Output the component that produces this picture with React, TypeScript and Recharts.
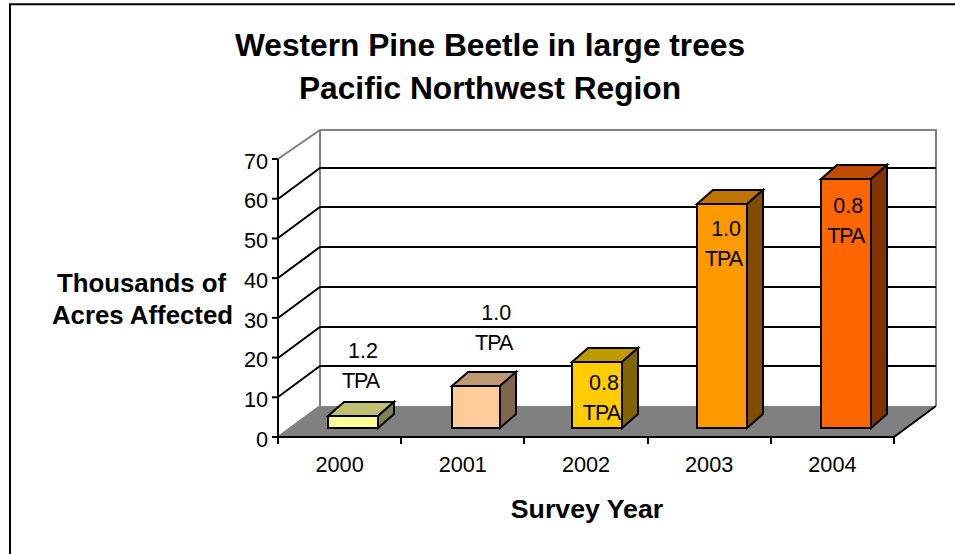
import { BarChart, Bar, XAxis, YAxis, LabelList } from 'recharts'

const FONT = '"Liberation Sans", Arial, sans-serif'

// ==================== Data ====================

const YEARS = ['2000', '2001', '2002', '2003', '2004']
const ACRES = [3, 10.6, 16.7, 56.4, 62.8]
const TPA = ['1.2', '1.0', '0.8', '1.0', '0.8']
const Y_TICKS = [0, 10, 20, 30, 40, 50, 60, 70]

const FRONT_COLORS = ['#FFFF99', '#FFCC99', '#FFCC00', '#FF9900', '#FF6600']
const TOP_COLORS = ['#BFBF73', '#BF9973', '#BF9900', '#BF7300', '#BF4C00']
const SIDE_COLORS = ['#80804D', '#80664D', '#806600', '#804D00', '#803300']

// Manually placed data labels: baseline lift above the bar's top edge, x shift from the bar's centre
const LABEL_LIFT = [58, 66, -28, -32, -34]
const LABEL_SHIFT = [7.5, 16.5, 4, 2, 0]
// the 3D bars don't sit perfectly evenly across the bands
const BAR_NUDGE = [0, 1, -2, -1, 0]
const BAR_TRIM = [0, 2, 0, 0, 0]

const chartData = YEARS.map((year, i) => ({ year, acres: ACRES[i] }))

// ==================== Geometry ====================

const WIDTH = 955
const HEIGHT = 554
const LEFT = 278
const RIGHT = 894
const TOP = 159
const BOTTOM = 437
const AXIS_W = 60
const AXIS_H = 30

// oblique offset of the back wall
const DX = 42
const DY = 31
// bars stand part way into the floor
const BAR_DX = 13
const BAR_DY = 9
const BAR_DEPTH_X = 16
const BAR_DEPTH_Y = 14

const yPos = (v: number) => Math.round(BOTTOM - ((BOTTOM - TOP) * v) / 70)

// ==================== Walls ====================

function Walls() {
  const band = (RIGHT - LEFT) / YEARS.length
  return (
    <g>
      <polygon
        points={`${LEFT},${BOTTOM} ${RIGHT},${BOTTOM} ${RIGHT + DX},${BOTTOM - DY} ${LEFT + DX},${BOTTOM - DY}`}
        fill="#808080"
      />
      <path
        d={`M${LEFT},${TOP} L${LEFT + DX},${TOP - 29} H${RIGHT + DX} V${BOTTOM - DY} M${LEFT + DX},${TOP - 29} V${BOTTOM - DY} L${LEFT},${BOTTOM}`}
        fill="none"
        stroke="#808080"
        strokeWidth={2}
      />
      {Y_TICKS.filter(t => t > 0 && t < 70).map(t => (
        <path
          key={t}
          d={`M${LEFT},${yPos(t)} L${LEFT + DX},${yPos(t) - DY} H${RIGHT + DX}`}
          fill="none"
          stroke="#000"
          strokeWidth={2}
        />
      ))}
      <line x1={RIGHT} y1={BOTTOM} x2={RIGHT + DX} y2={BOTTOM - DY} stroke="#000" strokeWidth={2} />
      {[0, 1, 2, 3, 4, 5].map(i => (
        <line key={i} x1={Math.round(LEFT + i * band)} y1={BOTTOM} x2={Math.round(LEFT + i * band)} y2={BOTTOM + 7} stroke="#000" strokeWidth={2} />
      ))}
    </g>
  )
}

// ==================== 3D bar ====================

function Bar3D({ x, y, width, height, index }: any) {
  const l = Math.round(x + BAR_DX + BAR_NUDGE[index])
  const r = l + width - BAR_TRIM[index]
  const t = Math.round(y - BAR_DY)
  const b = BOTTOM - BAR_DY
  return (
    <g stroke="#000" strokeWidth={2} strokeLinejoin="miter">
      <polygon points={`${l},${t} ${l + BAR_DEPTH_X},${t - BAR_DEPTH_Y} ${r + BAR_DEPTH_X},${t - BAR_DEPTH_Y} ${r},${t}`} fill={TOP_COLORS[index]} />
      <polygon points={`${r},${t} ${r + BAR_DEPTH_X},${t - BAR_DEPTH_Y} ${r + BAR_DEPTH_X},${b - BAR_DEPTH_Y} ${r},${b}`} fill={SIDE_COLORS[index]} />
      <rect x={l} y={t} width={r - l} height={b - t} fill={FRONT_COLORS[index]} />
    </g>
  )
}

function TpaLabel({ x, y, width, index }: any) {
  const cx = x + width / 2 + BAR_DX + BAR_NUDGE[index] + LABEL_SHIFT[index]
  const top = y - BAR_DY - LABEL_LIFT[index]
  return (
    <text fontFamily={FONT} fontSize={21.5} fill="#000" textAnchor="middle">
      <tspan x={cx + 2.5} y={top}>{TPA[index]}</tspan>
      <tspan x={cx} y={top + 30} letterSpacing={-1}>TPA</tspan>
    </text>
  )
}

// ==================== Chart ====================

export default function App() {
  return (
    <div style={{ position: 'absolute', left: 0, top: 0, width: WIDTH, height: HEIGHT, background: '#fff' }}>
      <BarChart
        width={WIDTH}
        height={HEIGHT}
        data={chartData}
        margin={{ left: LEFT - AXIS_W, right: WIDTH - RIGHT, top: TOP, bottom: HEIGHT - BOTTOM - AXIS_H }}
      >
        <path d={`M10,554 V4.3 H955`} fill="none" stroke="#000" strokeWidth={2} />
        <Walls />
        <XAxis
          dataKey="year"
          height={AXIS_H}
          tickLine={false}
          axisLine={{ stroke: '#000', strokeWidth: 2 }}
          tick={{ fontFamily: FONT, fontSize: 21.7, fill: '#000' }}
          tickMargin={14}
        />
        <YAxis
          width={AXIS_W}
          domain={[0, 70]}
          ticks={Y_TICKS}
          interval={0}
          tickSize={6}
          tickMargin={4}
          tickLine={{ stroke: '#000', strokeWidth: 2 }}
          axisLine={{ stroke: '#000', strokeWidth: 2 }}
          tick={{ fontFamily: FONT, fontSize: 21.7, fill: '#000', dy: 2 }}
        />
        <Bar dataKey="acres" barSize={50} shape={<Bar3D />} isAnimationActive={false}>
          <LabelList dataKey="acres" content={<TpaLabel />} />
        </Bar>
        <text fontFamily={FONT} fontSize={31.7} fontWeight="bold" textAnchor="middle" fill="#000">
          <tspan x={490} y={56}>Western Pine Beetle in large trees</tspan>
          <tspan x={490} y={99}>Pacific Northwest Region</tspan>
        </text>
        <text fontFamily={FONT} fontSize={25.8} fontWeight="bold" textAnchor="middle" fill="#000">
          <tspan x={141.5} y={292}>Thousands of</tspan>
          <tspan x={142.5} y={324}>Acres Affected</tspan>
        </text>
        <text x={587} y={518} fontFamily={FONT} fontSize={26.7} fontWeight="bold" textAnchor="middle" fill="#000">
          Survey Year
        </text>
      </BarChart>
    </div>
  )
}
